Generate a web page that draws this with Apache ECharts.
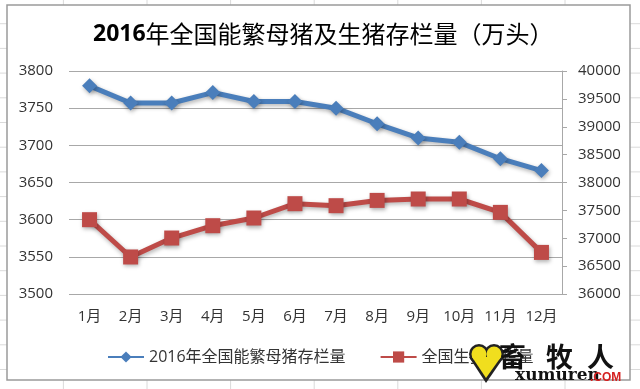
<!DOCTYPE html>
<html>
<head>
<meta charset="utf-8">
<script src="https://cdn.jsdelivr.net/npm/echarts@6/dist/echarts.min.js"></script>
<style>
html,body{margin:0;padding:0;background:#fff;}
#chart{width:640px;height:389px;}
</style>
</head>
<body>
<div id="chart"></div>
<script>
const months = ['1月','2月','3月','4月','5月','6月','7月','8月','9月','10月','11月','12月'];
const sowStock = [3780, 3757, 3757, 3771, 3759, 3759, 3750, 3729, 3710, 3704, 3682, 3666];
const hogStock = [37333, 36664, 37004, 37225, 37363, 37620, 37584, 37679, 37704, 37704, 37464, 36746];
const sowName = '2016年全国能繁母猪存栏量';
const hogName = '全国生猪存栏量';
const titleYear = '2016';
const titleRest = '年全国能繁母猪及生猪存栏量（万头）';

const FONT = '"Open Sans", "Noto Sans CJK SC", sans-serif';
const chart = echarts.init(document.getElementById('chart'), null, {renderer: 'canvas'});

// spreadsheet background cells
const bg = [];
for (let k = 0; k < 9; k++) {
  const x = 63.4 + 83.6 * k;
  bg.push({type: 'line', z: -20, shape: {x1: x, y1: 0, x2: x, y2: 389}, style: {stroke: '#dadada', lineWidth: 1}});
}
for (let k = 1; k < 17; k++) {
  const y = 24.7 * k - 1;
  bg.push({type: 'line', z: -20, shape: {x1: 0, y1: y, x2: 640, y2: y}, style: {stroke: '#dadada', lineWidth: 1}});
}
bg.push({type: 'rect', z: -10, shape: {x: 7, y: 5, width: 623, height: 375}, style: {fill: '#ffffff', stroke: '#9a9a9a', lineWidth: 1.5}});

// watermark
const wm = [
  {type: 'circle', z: 100, shape: {cx: 479, cy: 354, r: 10}, style: {fill: '#222'}},
  {type: 'circle', z: 100, shape: {cx: 494, cy: 354, r: 10}, style: {fill: '#222'}},
  {type: 'polygon', z: 100, shape: {points: [[469, 357], [504, 357], [486, 383]]}, style: {fill: '#222'}},
  {type: 'circle', z: 101, shape: {cx: 479, cy: 354, r: 7.5}, style: {fill: '#f0de1e'}},
  {type: 'circle', z: 101, shape: {cx: 494, cy: 354, r: 7.5}, style: {fill: '#f0de1e'}},
  {type: 'polygon', z: 101, shape: {points: [[472, 357], [501, 357], [486, 378]]}, style: {fill: '#f0de1e'}},
  {type: 'text', z: 102, style: {text: '畜', x: 499, y: 357, fill: '#111', font: 'bold 27px "Noto Sans CJK SC"', textVerticalAlign: 'middle'}},
  {type: 'text', z: 102, style: {text: '牧', x: 546, y: 357, fill: '#111', font: 'bold 27px "Noto Sans CJK SC"', textVerticalAlign: 'middle'}},
  {type: 'text', z: 102, style: {text: '人', x: 587, y: 357, fill: '#111', font: 'bold 27px "Noto Sans CJK SC"', textVerticalAlign: 'middle'}},
  {type: 'text', z: 102, style: {text: 'xumuren', x: 515, y: 376, fill: '#111', font: 'bold 17px "DejaVu Serif"', textVerticalAlign: 'middle'}},
  {type: 'text', z: 102, style: {text: '.COM', x: 590, y: 378, fill: '#d42020', font: 'bold 12px "Liberation Sans"', textVerticalAlign: 'middle'}}
];

const shadow = {shadowColor: 'rgba(0,0,0,0.3)', shadowBlur: 4, shadowOffsetX: 1, shadowOffsetY: 2};
const plain = v => String(v);

chart.setOption({
  backgroundColor: '#ffffff',
  animation: false,
  title: {
    text: '{b|' + titleYear + '}{n|' + titleRest + '}',
    left: 88,
    top: 17,
    textStyle: {
      rich: {
        b: {fontSize: 23, fontWeight: 'bold', color: '#000', fontFamily: '"Open Sans", sans-serif'},
        n: {fontSize: 24, fontWeight: 'normal', color: '#000', fontFamily: '"Noto Sans CJK SC", sans-serif'}
      }
    }
  },
  legend: {
    left: 102,
    top: 344,
    itemWidth: 36,
    itemHeight: 14,
    itemGap: 34,
    textStyle: {fontSize: 16, color: '#333', fontFamily: FONT},
    data: [sowName, hogName]
  },
  grid: {left: 69, right: 78, top: 71, bottom: 95, containLabel: false},
  xAxis: {
    type: 'category',
    data: months,
    boundaryGap: true,
    axisLine: {show: false},
    axisTick: {show: false},
    axisLabel: {fontSize: 15, color: '#333', fontFamily: FONT, margin: 15, interval: 0}
  },
  yAxis: [
    {
      type: 'value', min: 3500, max: 3800, interval: 50, position: 'left',
      axisLine: {show: false}, axisTick: {show: false},
      axisLabel: {fontSize: 15, color: '#333', fontFamily: FONT, margin: 16, formatter: plain},
      splitLine: {show: true, lineStyle: {color: '#a8a8a8', width: 1}}
    },
    {
      type: 'value', min: 36000, max: 40000, interval: 500, position: 'right',
      axisLine: {show: true, lineStyle: {color: '#a8a8a8', width: 1}},
      axisTick: {show: true, length: 5, lineStyle: {color: '#a8a8a8'}},
      axisLabel: {fontSize: 15, color: '#333', fontFamily: FONT, margin: 16, formatter: plain},
      splitLine: {show: false}
    }
  ],
  series: [
    {
      name: sowName, type: 'line', yAxisIndex: 0, data: sowStock,
      symbol: 'diamond', symbolSize: 15,
      lineStyle: Object.assign({color: '#4a7ebb', width: 5}, shadow),
      itemStyle: Object.assign({color: '#4a7ebb'}, shadow),
      z: 3
    },
    {
      name: hogName, type: 'line', yAxisIndex: 1, data: hogStock,
      symbol: 'rect', symbolSize: 15,
      lineStyle: Object.assign({color: '#be4b48', width: 5}, shadow),
      itemStyle: Object.assign({color: '#be4b48'}, shadow),
      z: 2
    }
  ],
  graphic: {elements: bg.concat(wm)}
});
</script>
</body>
</html>
